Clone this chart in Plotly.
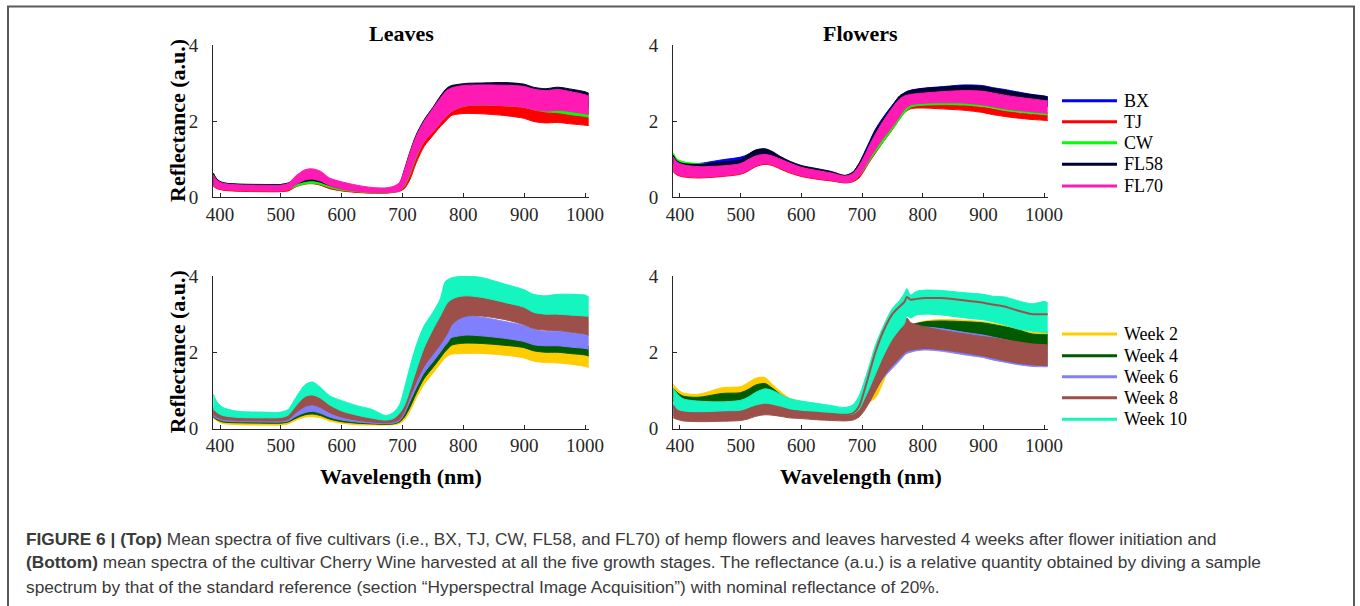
import plotly.graph_objects as go

# ---------------- data ----------------
WAVELENGTH = [389, 395, 405, 430, 470, 500, 512, 525, 540, 552, 565, 580, 600, 625, 650, 672, 685, 695, 703, 712,
              722, 735, 750, 762, 770, 774, 780, 790, 805, 830, 870, 900, 915, 935, 955, 980, 1000, 1006]
X_TICKS = [400, 500, 600, 700, 800, 900, 1000]
Y_TICKS = [0, 2, 4]
CULTIVARS = ["BX", "TJ", "CW", "FL58", "FL70"]
CULTIVAR_COLORS = ["#0000FF", "#FF0000", "#00FF00", "#000033", "#FF1AB3"]
WEEKS = ["Week 2", "Week 4", "Week 6", "Week 8", "Week 10"]
WEEK_COLORS = ["#FFCC00", "#005A00", "#8080FF", "#9C5049", "#14F5C0"]

# Leaves, five cultivars (lower / upper envelope of the spectra)
LEAF_BX_LO = [0.32,0.26,0.22,0.20,0.19,0.19,0.22,0.32,0.40,0.42, 0.38,0.28,0.20,0.15,0.12,0.12,0.14,0.18,0.35,0.70,
              1.12,1.55,1.88,2.12,2.26,2.32,2.38,2.42,2.45,2.46, 2.44,2.40,2.33,2.29,2.32,2.27,2.22,2.20]
LEAF_BX_HI = [0.60,0.45,0.37,0.33,0.32,0.32,0.36,0.46,0.52,0.53, 0.48,0.38,0.30,0.24,0.20,0.20,0.24,0.34,0.66,1.10,
              1.52,1.95,2.28,2.53,2.65,2.69,2.72,2.75,2.77,2.78, 2.77,2.73,2.66,2.62,2.65,2.59,2.53,2.50]
LEAF_TJ_LO = [0.28,0.22,0.18,0.15,0.14,0.14,0.16,0.27,0.34,0.35, 0.31,0.22,0.16,0.12,0.10,0.10,0.12,0.15,0.22,0.45,
              0.88,1.32,1.62,1.85,1.98,2.05,2.14,2.18,2.20,2.19, 2.14,2.07,1.99,1.95,1.96,1.92,1.89,1.88]
LEAF_TJ_HI = [0.50,0.38,0.30,0.26,0.25,0.25,0.28,0.36,0.41,0.42, 0.38,0.29,0.22,0.18,0.15,0.15,0.18,0.24,0.42,0.78,
              1.20,1.62,1.95,2.18,2.30,2.35,2.40,2.44,2.46,2.46, 2.43,2.38,2.30,2.26,2.28,2.22,2.14,2.08]
LEAF_CW_LO = [0.30,0.25,0.21,0.19,0.18,0.18,0.20,0.28,0.35,0.36, 0.33,0.25,0.18,0.14,0.11,0.11,0.13,0.17,0.28,0.58,
              1.02,1.45,1.72,1.95,2.10,2.16,2.24,2.33,2.40,2.42, 2.40,2.36,2.30,2.24,2.22,2.16,2.12,2.10]
LEAF_CW_HI = [0.58,0.44,0.37,0.34,0.33,0.33,0.36,0.42,0.46,0.46, 0.42,0.34,0.27,0.22,0.19,0.19,0.22,0.30,0.55,0.95,
              1.40,1.85,2.18,2.42,2.53,2.56,2.58,2.60,2.60,2.60, 2.58,2.55,2.48,2.44,2.46,2.40,2.34,2.30]
LEAF_FL58_LO = [0.34,0.28,0.24,0.22,0.21,0.21,0.24,0.34,0.41,0.43, 0.39,0.30,0.22,0.17,0.14,0.14,0.16,0.20,0.40,0.80,
                1.25,1.70,2.05,2.30,2.45,2.52,2.58,2.63,2.68,2.69, 2.68,2.65,2.57,2.54,2.56,2.50,2.44,2.42]
LEAF_FL58_HI = [0.63,0.47,0.38,0.34,0.33,0.33,0.37,0.44,0.49,0.50, 0.46,0.38,0.30,0.24,0.21,0.21,0.25,0.36,0.72,1.18,
                1.62,2.02,2.36,2.65,2.82,2.88,2.93,2.96,2.99,3.00, 3.01,2.97,2.89,2.85,2.89,2.83,2.77,2.73]
LEAF_FL70_LO = [0.30,0.24,0.20,0.17,0.16,0.16,0.19,0.33,0.45,0.47, 0.42,0.30,0.21,0.15,0.12,0.12,0.13,0.16,0.30,0.62,
                1.05,1.45,1.72,1.95,2.10,2.16,2.24,2.33,2.40,2.42, 2.40,2.36,2.30,2.26,2.28,2.24,2.19,2.17]
LEAF_FL70_HI = [0.58,0.44,0.36,0.32,0.31,0.31,0.36,0.56,0.72,0.74, 0.68,0.50,0.40,0.31,0.25,0.24,0.28,0.38,0.70,1.15,
                1.58,1.98,2.33,2.60,2.76,2.82,2.87,2.91,2.94,2.95, 2.94,2.91,2.84,2.80,2.83,2.76,2.69,2.65]

# Flowers, five cultivars
FLW_BX_LO = [0.85,0.75,0.72,0.72,0.80,0.85,0.92,1.00,1.02,0.97, 0.86,0.76,0.66,0.58,0.52,0.45,0.50,0.65,0.90,1.18,
             1.48,1.82,2.10,2.36,2.48,2.52,2.56,2.60,2.62,2.65, 2.68,2.66,2.60,2.54,2.48,2.43,2.40,2.38]
FLW_BX_HI = [1.08,0.94,0.88,0.88,0.98,1.05,1.12,1.22,1.25,1.18, 1.05,0.93,0.81,0.73,0.65,0.56,0.65,0.88,1.14,1.45,
             1.78,2.10,2.42,2.66,2.74,2.78,2.81,2.84,2.87,2.90, 2.95,2.93,2.88,2.83,2.77,2.70,2.66,2.64]
FLW_TJ_LO = [0.66,0.58,0.53,0.50,0.54,0.60,0.68,0.80,0.86,0.83, 0.74,0.64,0.54,0.47,0.42,0.37,0.40,0.50,0.68,0.92,
             1.15,1.45,1.77,2.05,2.22,2.27,2.32,2.34,2.34,2.32, 2.28,2.22,2.17,2.12,2.08,2.04,2.02,2.01]
FLW_TJ_HI = [0.95,0.85,0.78,0.72,0.75,0.80,0.90,1.00,1.05,1.02, 0.93,0.82,0.70,0.62,0.56,0.50,0.56,0.72,0.95,1.20,
             1.45,1.75,2.05,2.28,2.32,2.36,2.40,2.42,2.43,2.43, 2.41,2.36,2.32,2.26,2.22,2.18,2.16,2.15]
FLW_CW_LO = [0.85,0.80,0.76,0.72,0.72,0.76,0.82,0.90,0.92,0.88, 0.80,0.70,0.60,0.53,0.47,0.40,0.43,0.55,0.72,0.95,
             1.18,1.45,1.78,2.05,2.22,2.28,2.36,2.40,2.42,2.43, 2.42,2.38,2.34,2.28,2.24,2.20,2.17,2.16]
FLW_CW_HI = [1.16,1.00,0.93,0.88,0.88,0.92,1.00,1.08,1.10,1.05, 0.96,0.85,0.74,0.66,0.60,0.52,0.58,0.78,0.98,1.25,
             1.50,1.80,2.10,2.35,2.42,2.44,2.46,2.48,2.50,2.50, 2.49,2.45,2.40,2.35,2.31,2.26,2.22,2.21]
FLW_FL58_LO = [0.90,0.78,0.75,0.72,0.78,0.82,0.92,1.02,1.05,1.00, 0.88,0.78,0.68,0.60,0.53,0.46,0.50,0.65,0.88,1.15,
               1.45,1.80,2.10,2.38,2.50,2.55,2.60,2.63,2.65,2.68, 2.70,2.68,2.62,2.55,2.50,2.45,2.42,2.40]
FLW_FL58_HI = [1.10,0.95,0.88,0.86,0.92,0.98,1.12,1.24,1.27,1.20, 1.07,0.95,0.83,0.75,0.67,0.57,0.66,0.88,1.12,1.42,
               1.75,2.07,2.40,2.66,2.74,2.77,2.80,2.83,2.86,2.89, 2.93,2.91,2.86,2.81,2.75,2.69,2.65,2.63]
FLW_FL70_LO = [0.68,0.60,0.55,0.52,0.56,0.62,0.70,0.82,0.88,0.85, 0.76,0.66,0.56,0.49,0.44,0.38,0.42,0.55,0.75,1.00,
               1.25,1.55,1.85,2.12,2.30,2.36,2.42,2.45,2.47,2.48, 2.47,2.42,2.38,2.32,2.28,2.24,2.21,2.20]
FLW_FL70_HI = [1.05,0.92,0.85,0.80,0.82,0.88,0.98,1.08,1.12,1.08, 1.00,0.90,0.78,0.70,0.63,0.55,0.62,0.82,1.05,1.35,
               1.65,2.00,2.35,2.58,2.66,2.68,2.70,2.72,2.74,2.77, 2.80,2.78,2.74,2.68,2.63,2.58,2.54,2.53]

# Leaves, Cherry Wine, five growth stages
LW_W2_LO = [0.28,0.20,0.13,0.10,0.09,0.09,0.12,0.22,0.30,0.31, 0.28,0.20,0.14,0.10,0.09,0.09,0.10,0.13,0.22,0.45,
            0.78,1.15,1.45,1.70,1.85,1.90,1.95,1.96,1.97,1.97, 1.92,1.85,1.77,1.73,1.72,1.68,1.63,1.60]
LW_W2_HI = [0.38,0.28,0.21,0.17,0.16,0.16,0.19,0.31,0.40,0.42, 0.38,0.29,0.22,0.16,0.14,0.13,0.15,0.24,0.45,0.82,
            1.20,1.60,1.92,2.15,2.30,2.38,2.45,2.50,2.52,2.50, 2.42,2.34,2.25,2.20,2.20,2.15,2.10,2.08]
LW_W4_LO = [0.30,0.23,0.17,0.15,0.14,0.14,0.17,0.27,0.36,0.38, 0.34,0.25,0.18,0.14,0.12,0.11,0.12,0.17,0.30,0.55,
            0.90,1.30,1.60,1.85,2.02,2.08,2.18,2.22,2.24,2.23, 2.18,2.12,2.04,2.00,2.00,1.96,1.93,1.90]
LW_W4_HI = [0.42,0.32,0.25,0.21,0.20,0.20,0.23,0.36,0.46,0.48, 0.43,0.34,0.26,0.20,0.17,0.16,0.19,0.32,0.60,0.95,
            1.30,1.70,2.00,2.22,2.38,2.44,2.50,2.53,2.55,2.53, 2.45,2.38,2.30,2.26,2.26,2.22,2.18,2.15]
LW_W6_LO = [0.33,0.26,0.20,0.18,0.17,0.17,0.20,0.32,0.42,0.45, 0.40,0.30,0.22,0.17,0.14,0.13,0.14,0.20,0.38,0.70,
            1.05,1.45,1.75,2.00,2.18,2.25,2.38,2.42,2.45,2.43, 2.36,2.28,2.20,2.17,2.17,2.13,2.10,2.08]
LW_W6_HI = [0.48,0.38,0.30,0.25,0.24,0.24,0.28,0.45,0.60,0.63, 0.56,0.44,0.33,0.26,0.21,0.19,0.23,0.40,0.75,1.15,
            1.55,1.95,2.30,2.55,2.72,2.80,2.88,2.92,2.95,2.92, 2.80,2.70,2.60,2.55,2.55,2.50,2.47,2.45]
LW_W8_LO = [0.38,0.30,0.24,0.21,0.20,0.20,0.24,0.42,0.58,0.62, 0.55,0.42,0.30,0.22,0.17,0.15,0.17,0.24,0.45,0.82,
            1.20,1.62,1.95,2.20,2.40,2.50,2.70,2.85,2.95,2.95, 2.85,2.72,2.62,2.58,2.57,2.52,2.48,2.45]
LW_W8_HI = [0.55,0.45,0.36,0.30,0.29,0.30,0.36,0.62,0.84,0.88, 0.80,0.62,0.47,0.36,0.28,0.24,0.30,0.50,0.90,1.35,
            1.85,2.30,2.68,2.95,3.20,3.35,3.45,3.48,3.50,3.45, 3.30,3.18,3.05,3.00,3.00,2.98,2.96,2.95]
LW_W10_LO = [0.52,0.42,0.34,0.29,0.28,0.29,0.35,0.60,0.84,0.88, 0.80,0.62,0.46,0.35,0.27,0.22,0.26,0.40,0.60,1.00,
             1.50,2.10,2.60,2.95,3.20,3.30,3.38,3.45,3.48,3.44, 3.30,3.18,3.05,3.00,3.00,2.97,2.95,2.94]
LW_W10_HI = [0.90,0.70,0.55,0.45,0.43,0.43,0.50,0.82,1.15,1.22, 1.08,0.86,0.73,0.60,0.50,0.34,0.42,0.62,1.05,1.60,
             2.15,2.68,3.05,3.40,3.85,3.90,3.95,3.98,4.00,3.96, 3.78,3.64,3.52,3.48,3.52,3.52,3.50,3.45]

# Flowers, Cherry Wine, five growth stages
FW_W2_LO = [0.82,0.74,0.70,0.68,0.72,0.76,0.84,0.94,0.95,0.86, 0.72,0.62,0.55,0.50,0.45,0.40,0.42,0.50,0.60,0.70,
            0.80,1.22,1.80,1.98,2.05,2.10,2.12,2.15,2.15,2.15, 2.10,2.05,2.00,1.96,1.92,1.90,1.90,1.90]
FW_W2_HI = [1.16,1.05,0.93,0.90,1.07,1.10,1.20,1.32,1.34,1.16, 0.98,0.80,0.70,0.63,0.56,0.50,0.55,0.68,0.82,1.00,
            1.30,1.75,2.20,2.42,2.52,2.60,2.65,2.75,2.82,2.86, 2.84,2.80,2.76,2.70,2.62,2.52,2.55,2.55]
FW_W4_LO = [0.72,0.65,0.60,0.57,0.60,0.62,0.70,0.82,0.85,0.78, 0.68,0.58,0.50,0.46,0.42,0.38,0.40,0.48,0.60,0.78,
            1.02,1.35,1.72,1.98,2.12,2.18,2.22,2.28,2.33,2.37, 2.38,2.35,2.32,2.28,2.24,2.20,2.20,2.20]
FW_W4_HI = [1.05,0.95,0.85,0.82,0.92,0.94,1.02,1.14,1.18,1.06, 0.90,0.76,0.66,0.60,0.55,0.50,0.55,0.70,0.92,1.20,
            1.52,1.90,2.30,2.55,2.66,2.74,2.72,2.76,2.80,2.82, 2.80,2.77,2.73,2.67,2.60,2.48,2.46,2.46]
FW_W6_LO = [0.35,0.30,0.28,0.27,0.29,0.31,0.37,0.45,0.50,0.48, 0.42,0.37,0.33,0.30,0.27,0.25,0.27,0.35,0.50,0.72,
            1.00,1.32,1.58,1.78,1.92,1.97,2.00,2.04,2.06,2.03, 1.93,1.86,1.80,1.74,1.68,1.63,1.62,1.62]
FW_W6_HI = [0.65,0.52,0.46,0.44,0.47,0.50,0.56,0.63,0.68,0.66, 0.58,0.50,0.45,0.42,0.38,0.35,0.40,0.55,0.80,1.12,
            1.48,1.92,2.28,2.48,2.60,2.66,2.63,2.65,2.66,2.62, 2.52,2.45,2.40,2.33,2.26,2.20,2.18,2.18]
FW_W8_LO = [0.28,0.24,0.20,0.18,0.19,0.21,0.25,0.32,0.36,0.35, 0.32,0.28,0.26,0.23,0.21,0.20,0.22,0.30,0.45,0.68,
            0.98,1.35,1.65,1.85,1.98,2.03,2.05,2.08,2.10,2.07, 1.98,1.90,1.85,1.78,1.72,1.67,1.65,1.65]
FW_W8_HI = [0.60,0.47,0.42,0.40,0.42,0.44,0.50,0.58,0.62,0.60, 0.55,0.48,0.44,0.41,0.38,0.36,0.40,0.55,0.85,1.28,
            1.72,2.20,2.55,2.72,2.82,2.90,2.78,2.72,2.66,2.58, 2.48,2.41,2.38,2.33,2.28,2.22,2.20,2.20]
FW_W8_TOP = [0.60,0.47,0.42,0.40,0.42,0.44,0.50,0.58,0.62,0.60, 0.55,0.48,0.44,0.41,0.38,0.36,0.40,0.58,0.95,1.45,
             2.00,2.55,3.00,3.20,3.32,3.45,3.38,3.40,3.42,3.42, 3.36,3.30,3.25,3.20,3.10,3.00,3.00,3.00]
FW_W10_LO = [0.60,0.52,0.46,0.44,0.46,0.48,0.53,0.60,0.66,0.62, 0.55,0.49,0.45,0.42,0.38,0.36,0.38,0.50,0.75,1.05,
             1.42,1.90,2.35,2.60,2.75,2.95,2.90,2.98,3.00,2.98, 2.90,2.85,2.80,2.72,2.62,2.55,2.52,2.50]
FW_W10_HI = [1.05,0.92,0.78,0.72,0.70,0.74,0.82,0.95,1.04,1.00, 0.90,0.79,0.72,0.66,0.60,0.55,0.62,0.85,1.20,1.65,
             2.18,2.68,3.15,3.36,3.55,3.67,3.50,3.60,3.63,3.62, 3.56,3.52,3.47,3.45,3.36,3.27,3.33,3.30]

PANEL_TITLES = ["Leaves", "Flowers"]
Y_LABEL = "Reflectance (a.u.)"
X_LABEL = "Wavelength (nm)"
CAPTION = [
    "<b>FIGURE 6 | (Top)</b> Mean spectra of five cultivars (i.e., BX, TJ, CW, FL58, and FL70) of hemp flowers and leaves harvested 4 weeks after flower initiation and",
    "<b>(Bottom)</b> mean spectra of the cultivar Cherry Wine harvested at all the five growth stages. The reflectance (a.u.) is a relative quantity obtained by diving a sample",
    "spectrum by that of the standard reference (section \u201cHyperspectral Image Acquisition\u201d) with nominal reflectance of 20%.",
]

# ---------------- layout geometry (pixels) ----------------
W_PX, H_PX = 1360, 606
def px(x):
    return x / W_PX
def py(y):
    return 1 - y / H_PX

X_DOM = [[px(213), px(589)], [px(673), px(1048)]]
Y_DOM = [[py(197), py(45)], [py(428.5), py(276)]]

panels = [
    (1, 0, 0, list(zip(CULTIVARS, CULTIVAR_COLORS,
        [LEAF_BX_LO, LEAF_TJ_LO, LEAF_CW_LO, LEAF_FL58_LO, LEAF_FL70_LO],
        [LEAF_BX_HI, LEAF_TJ_HI, LEAF_CW_HI, LEAF_FL58_HI, LEAF_FL70_HI]))),
    (2, 1, 0, list(zip(CULTIVARS, CULTIVAR_COLORS,
        [FLW_BX_LO, FLW_TJ_LO, FLW_CW_LO, FLW_FL58_LO, FLW_FL70_LO],
        [FLW_BX_HI, FLW_TJ_HI, FLW_CW_HI, FLW_FL58_HI, FLW_FL70_HI]))),
    (3, 0, 1, list(zip(WEEKS, WEEK_COLORS,
        [LW_W2_LO, LW_W4_LO, LW_W6_LO, LW_W8_LO, LW_W10_LO],
        [LW_W2_HI, LW_W4_HI, LW_W6_HI, LW_W8_HI, LW_W10_HI]))),
    (4, 1, 1, list(zip(WEEKS, WEEK_COLORS,
        [FW_W2_LO, FW_W4_LO, FW_W6_LO, FW_W8_LO, FW_W10_LO],
        [FW_W2_HI, FW_W4_HI, FW_W6_HI, FW_W8_HI, FW_W10_HI]))),
]

fig = go.Figure()
AX = "#262626"
SERIF = "Liberation Serif"

for idx, xd, yd, groups in panels:
    xa = "x" if idx == 1 else f"x{idx}"
    ya = "y" if idx == 1 else f"y{idx}"
    for name, color, lo, hi in groups:
        fig.add_trace(go.Scatter(x=WAVELENGTH, y=lo, xaxis=xa, yaxis=ya, mode="lines",
                                 line=dict(color=color, width=1, shape="spline", smoothing=0.8),
                                 showlegend=False, hoverinfo="skip"))
        fig.add_trace(go.Scatter(x=WAVELENGTH, y=hi, xaxis=xa, yaxis=ya, mode="lines", fill="tonexty",
                                 fillcolor=color,
                                 line=dict(color=color, width=1, shape="spline", smoothing=0.8),
                                 name=name, showlegend=False, hoverinfo="skip"))
    if idx == 4:
        fig.add_trace(go.Scatter(x=WAVELENGTH, y=FW_W8_TOP, xaxis=xa, yaxis=ya, mode="lines",
                                 line=dict(color=WEEK_COLORS[3], width=2, shape="spline", smoothing=0.8),
                                 showlegend=False, hoverinfo="skip"))

    axis_common = dict(showgrid=False, zeroline=False, showline=True, linecolor=AX, linewidth=1,
                       ticks="inside", ticklen=4, tickwidth=1, tickcolor=AX, mirror=False,
                       tickfont=dict(family=SERIF, size=19, color=AX))
    fig.layout[f"xaxis{'' if idx == 1 else idx}"] = dict(
        axis_common, domain=X_DOM[xd], range=[388.5, 1006.5], tickvals=X_TICKS,
        anchor=ya, ticklabelstandoff=0)
    fig.layout[f"yaxis{'' if idx == 1 else idx}"] = dict(
        axis_common, domain=Y_DOM[yd], range=[0, 4], tickvals=Y_TICKS,
        anchor=xa, ticklabelstandoff=10)

annotations = []
shapes = []
for t, xd in zip(PANEL_TITLES, X_DOM):
    annotations.append(dict(text=f"<b>{t}</b>", x=(xd[0] + xd[1]) / 2, y=py(33), xref="paper", yref="paper",
                            showarrow=False, xanchor="center", yanchor="middle",
                            font=dict(family=SERIF, size=22, color="#000000")))
for yd in Y_DOM:
    annotations.append(dict(text=f"<b>{Y_LABEL}</b>", x=px(177), y=(yd[0] + yd[1]) / 2, xref="paper", yref="paper",
                            showarrow=False, textangle=-90, xanchor="center", yanchor="middle",
                            font=dict(family=SERIF, size=22, color="#000000")))
for xd in X_DOM:
    annotations.append(dict(text=f"<b>{X_LABEL}</b>", x=(xd[0] + xd[1]) / 2, y=py(476), xref="paper", yref="paper",
                            showarrow=False, xanchor="center", yanchor="middle",
                            font=dict(family=SERIF, size=22, color="#000000")))

LEG_TOP_Y = [100.7, 121.7, 142.7, 164.3, 186]
LEG_BOT_Y = [334, 355.7, 376.7, 397.7, 419.3]
for names, colors, ys in [(CULTIVARS, CULTIVAR_COLORS, LEG_TOP_Y), (WEEKS, WEEK_COLORS, LEG_BOT_Y)]:
    for n, c, yy in zip(names, colors, ys):
        shapes.append(dict(type="line", xref="paper", yref="paper", x0=px(1062), x1=px(1117),
                           y0=py(yy), y1=py(yy), line=dict(color=c, width=3)))
        annotations.append(dict(text=n, x=px(1122), y=py(yy), xref="paper", yref="paper", showarrow=False,
                                xanchor="left", yanchor="middle",
                                font=dict(family=SERIF, size=18, color="#000000")))

for line, yy in zip(CAPTION, [539, 562, 587]):
    annotations.append(dict(text=line, x=px(24), y=py(yy), xref="paper", yref="paper", showarrow=False,
                            xanchor="left", yanchor="middle",
                            font=dict(family="Liberation Sans", size=17.3, color="#3a3a3a")))

shapes.append(dict(type="rect", xref="paper", yref="paper", x0=px(8), x1=px(1354), y0=-0.05, y1=py(6.5),
                   line=dict(color="#5a5a5a", width=2), fillcolor="rgba(0,0,0,0)"))

fig.update_layout(width=W_PX, height=H_PX, autosize=False,
                  margin=dict(l=0, r=0, t=0, b=0, pad=0, autoexpand=False),
                  paper_bgcolor="white", plot_bgcolor="white", showlegend=False,
                  annotations=annotations, shapes=shapes)

fig.write_html("out.html", config={"displayModeBar": False, "staticPlot": True},
               post_script="document.body.style.margin='0';document.body.style.overflow='hidden';")
